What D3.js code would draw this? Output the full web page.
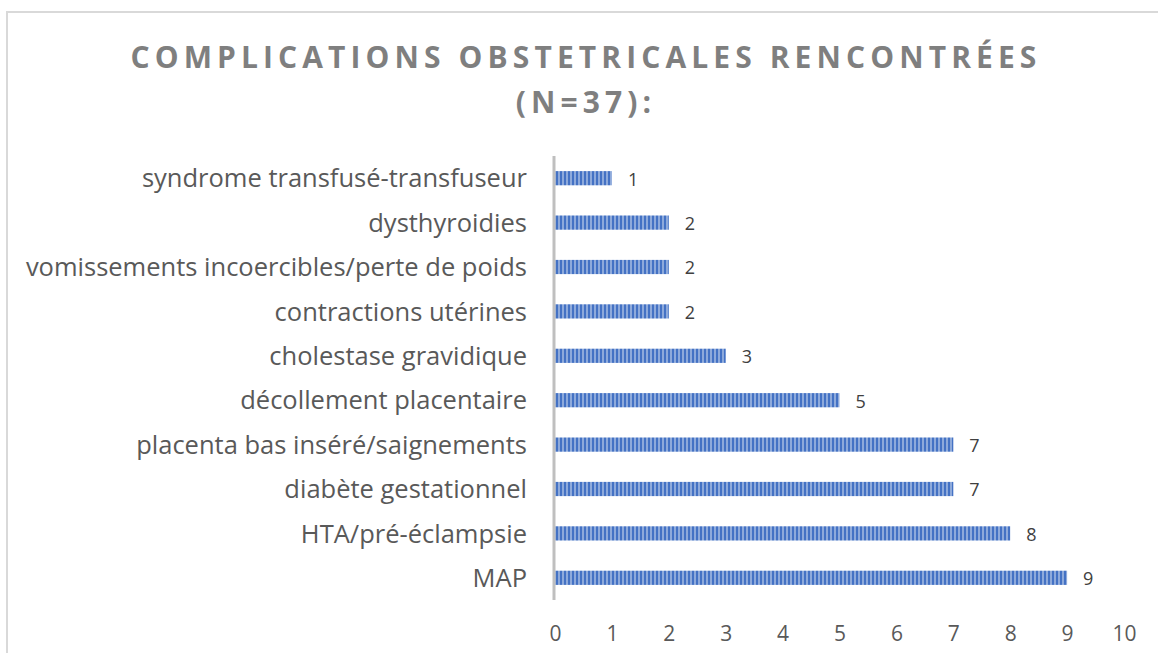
<!DOCTYPE html>
<html>
<head>
<meta charset="utf-8">
<script src="https://cdn.jsdelivr.net/npm/d3@7"></script>
<style>
  body { margin: 0; background: #fff; }
  svg { display: block; }
</style>
</head>
<body>
<svg id="chart" width="1158" height="653"></svg>
<script>
var categories = ["syndrome transfusé-transfuseur", "dysthyroidies", "vomissements incoercibles/perte de poids",
  "contractions utérines", "cholestase gravidique", "décollement placentaire",
  "placenta bas inséré/saignements", "diabète gestationnel", "HTA/pré-éclampsie", "MAP"]
var values = [1, 2, 2, 2, 3, 5, 7, 7, 8, 9]
var ticks = [0, 1, 2, 3, 4, 5, 6, 7, 8, 9, 10]
var titleLines = ["COMPLICATIONS OBSTETRICALES RENCONTRÉES", "(N=37):"]

var svg = d3.select("#chart")
var font = "Open Sans, sans-serif"

// chart area border (only top and left visible)
svg.append("path")
  .attr("d", "M7,653 V12 H1158")
  .attr("fill", "none")
  .attr("stroke", "#d9d9d9")
  .attr("stroke-width", 2)

// striped fill like the excel pattern
var defs = svg.append("defs")
var pat = defs.append("pattern")
  .attr("id", "stripes")
  .attr("patternUnits", "userSpaceOnUse")
  .attr("width", 4).attr("height", 4)
pat.append("rect").attr("width", 4).attr("height", 4).attr("fill", "#8eaadb")
pat.append("rect").attr("width", 2).attr("height", 4).attr("fill", "#4472c4")

var x = d3.scaleLinear().domain([0, 10]).range([555, 1124])
var y = d3.scaleBand().domain(categories).range([156, 600]).paddingInner(0.68).paddingOuter(0.34)

// title
svg.selectAll(".title")
  .data(titleLines)
  .enter().append("text")
  .attr("class", "title")
  .attr("x", 586)
  .attr("y", (d, i) => 68 + i * 45)
  .attr("text-anchor", "middle")
  .attr("font-family", font)
  .attr("font-weight", "bold")
  .attr("font-size", 30)
  .attr("letter-spacing", 5.1)
  .attr("fill", "#7f7f7f")
  .text(d => d)

// bars
svg.selectAll(".bar")
  .data(values)
  .enter().append("rect")
  .attr("class", "bar")
  .attr("x", x(0))
  .attr("y", (d, i) => y(categories[i]))
  .attr("width", d => x(d) - x(0))
  .attr("height", y.bandwidth())
  .attr("fill", "url(#stripes)")

// value labels
svg.selectAll(".val")
  .data(values)
  .enter().append("text")
  .attr("class", "val")
  .attr("x", d => x(d) + 16)
  .attr("y", (d, i) => y(categories[i]) + y.bandwidth() / 2 + 1)
  .attr("dy", "0.36em")
  .attr("font-family", font)
  .attr("font-size", 18)
  .attr("fill", "#404040")
  .text(d => d)

// category labels
svg.selectAll(".cat")
  .data(categories)
  .enter().append("text")
  .attr("class", "cat")
  .attr("x", 527)
  .attr("y", d => y(d) + y.bandwidth() / 2)
  .attr("dy", "0.36em")
  .attr("text-anchor", "end")
  .attr("font-family", font)
  .attr("font-size", 25.5)
  .attr("fill", "#595959")
  .text(d => d)

// vertical axis line
svg.append("line")
  .attr("x1", 554).attr("x2", 554)
  .attr("y1", 156).attr("y2", 600)
  .attr("stroke", "#bfbfbf")
  .attr("stroke-width", 3)

// x axis tick labels
var xAxis = d3.axisBottom(x).tickValues(ticks).tickSize(0).tickPadding(0)
var gx = svg.append("g").attr("transform", "translate(0,633)").call(xAxis)
gx.select(".domain").remove()
gx.selectAll("text")
  .attr("font-family", font)
  .attr("font-size", 21)
  .attr("fill", "#595959")
  .attr("dy", "0.36em")
</script>
</body>
</html>
